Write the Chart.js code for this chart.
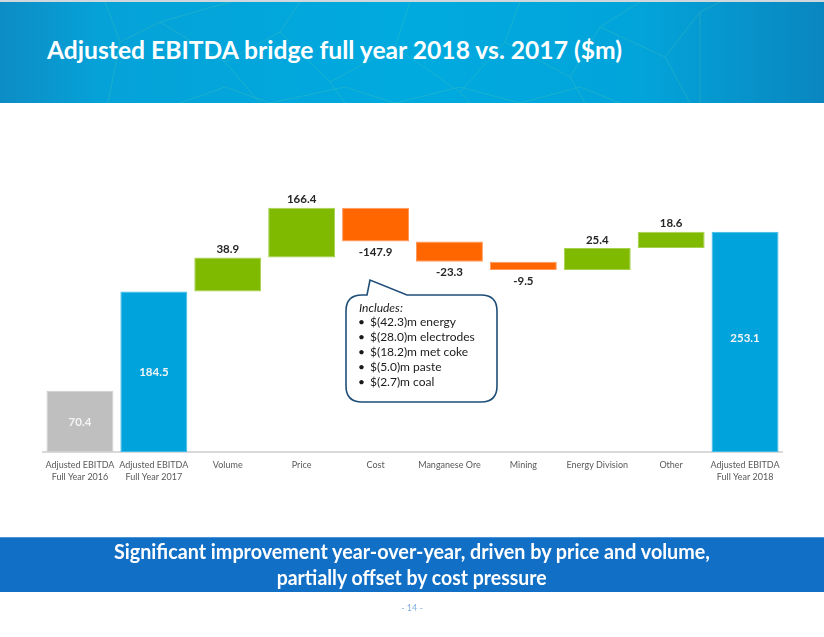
<!DOCTYPE html>
<html>
<head>
<meta charset="utf-8">
<script src="https://cdn.jsdelivr.net/npm/chart.js@4.4.1/dist/chart.umd.min.js"></script>
<style>
  html, body { margin:0; padding:0; background:#fff; }
  body { width:824px; height:637px; position:relative; overflow:hidden; font-family: Lato, "Open Sans", sans-serif; }
  #header { position:absolute; left:0; top:2px; width:824px; height:101px;
    background: linear-gradient(90deg, #0d8cc4 0%, #05a2d8 12%, #00aadf 50%, #02a4da 78%, #0a86bf 100%); overflow:hidden; }
  #topline { position:absolute; left:0; top:0; width:824px; height:2px; background:#d0d8de; }
  #title { position:absolute; left:47px; top:32px; color:#fff; font-weight:700; font-size:25px; white-space:nowrap; transform-origin:0 0; }
  #banner { position:absolute; left:0; top:537px; width:824px; height:54px; background:#116fc6; border-top:1px solid #4a95d8; }
  .bline { position:absolute; left:0; width:824px; text-align:center; color:#fff; font-weight:700; font-size:20px; white-space:nowrap; }
  .bline span { display:inline-block; transform-origin:50% 50%; }
  #page { position:absolute; left:0; width:824px; top:602px; text-align:center; color:#7fb0de; font-size:9px; }
  #chartWrap { position:absolute; left:0; top:110px; width:824px; height:400px; }
  #callout { position:absolute; left:0; top:0; width:824px; height:637px; pointer-events:none; }
  .ct { position:absolute; font-size:12px; color:#1a1a1a; white-space:nowrap; line-height:15px; }
</style>
</head>
<body>
<div id="header">
  <svg width="824" height="101" style="position:absolute;left:0;top:0;opacity:0.25">
    <g stroke="#5fd0a8" stroke-width="1" fill="none">
      <polyline points="105,0 120,40 108,101"/>
      <polyline points="120,40 160,20 230,0"/>
      <polyline points="160,20 225,60 260,101"/>
      <polyline points="225,60 280,30 300,0"/>
      <polyline points="280,30 330,80 345,101"/>
      <polyline points="330,80 395,45 410,0"/>
      <polyline points="395,45 460,90 470,101"/>
      <polyline points="460,90 505,40 520,0"/>
      <polyline points="505,40 570,75 585,101"/>
      <polyline points="570,75 600,25 640,0"/>
      <polyline points="600,25 665,55 690,101"/>
      <polyline points="665,55 700,10 720,0"/>
      <polyline points="700,10 700,101"/>
      <polyline points="180,101 225,85 270,101 345,85 395,101 460,85 520,101 580,85 620,101"/>
    </g>
  </svg>
  <div id="title">Adjusted EBITDA bridge full year 2018 vs. 2017 ($m)</div>
</div>
<div id="topline"></div>

<div id="chartWrap"><canvas id="c" width="824" height="400"></canvas></div>

<svg id="callout" width="824" height="637">
  <path d="M 362 295 L 367 295 L 370 280 L 407 295 L 481 295 Q 497 295 497 311 L 497 386 Q 497 402 481 402 L 362 402 Q 346 402 346 386 L 346 311 Q 346 295 362 295 Z"
        fill="#ffffff" stroke="#1f4e79" stroke-width="1.6"/>
</svg>
<div class="ct" style="left:359px;top:300px;font-style:italic;">Includes:</div>
<div class="ct" style="left:358px;top:314px;">•</div><div class="ct" style="left:370px;top:314px;">$(42.3)m energy</div>
<div class="ct" style="left:358px;top:329px;">•</div><div class="ct" style="left:370px;top:329px;">$(28.0)m electrodes</div>
<div class="ct" style="left:358px;top:344px;">•</div><div class="ct" style="left:370px;top:344px;">$(18.2)m met coke</div>
<div class="ct" style="left:358px;top:359px;">•</div><div class="ct" style="left:370px;top:359px;">$(5.0)m paste</div>
<div class="ct" style="left:358px;top:374px;">•</div><div class="ct" style="left:370px;top:374px;">$(2.7)m coal</div>

<div id="banner">
  <div class="bline" style="top:1px;"><span id="b1">Significant improvement year-over-year, driven by price and volume,</span></div>
  <div class="bline" style="top:27px;"><span id="b2">partially offset by cost pressure</span></div>
</div>
<div id="page">- 14 -</div>

<script>
// ---- data ----
const categories = [
  ["Adjusted EBITDA", "Full Year 2016"],
  ["Adjusted EBITDA", "Full Year 2017"],
  "Volume", "Price", "Cost", "Manganese Ore", "Mining", "Energy Division", "Other",
  ["Adjusted EBITDA", "Full Year 2018"]
];
const values = [70.4, 184.5, 38.9, 166.4, -147.9, -23.3, -9.5, 25.4, 18.6, 253.1];
const barTypes = ["prior", "total", "delta", "delta", "delta", "delta", "delta", "delta", "delta", "total"];
// the original slide draws Price and Cost with a broken (truncated) top at this level
const brokenTop = 280.8;

// fit text widths to reference
function fitWidth(el, w) {
  const r = el.getBoundingClientRect().width;
  el.style.transform = 'scaleX(' + (w / r) + ')';
}
fitWidth(document.getElementById('title'), 575);
fitWidth(document.getElementById('b1'), 596);
fitWidth(document.getElementById('b2'), 270);

// build floating ranges
const ranges = [];
const colors = [];
const borders = [];
let running = 0;
values.forEach((v, i) => {
  const t = barTypes[i];
  if (t === "prior") {
    ranges.push([0, v]); colors.push("#bfbfbf"); borders.push("#d0d0d0");
  } else if (t === "total") {
    ranges.push([0, v]); colors.push("#00a3db"); borders.push("#3dbbe6");
    running = v;
  } else {
    const s = running, e = running + v;
    ranges.push([Math.min(s, brokenTop), Math.min(e, brokenTop)]);
    if (v >= 0) { colors.push("#7fba00"); borders.push("#a6d14d"); }
    else { colors.push("#ff6600"); borders.push("#ff9a5c"); }
    running = e;
  }
});

const labelPlugin = {
  id: 'wfLabels',
  afterDatasetsDraw(chart) {
    const ctx = chart.ctx;
    const meta = chart.getDatasetMeta(0);
    ctx.save();
    ctx.textAlign = 'center';
    ctx.textBaseline = 'middle';
    meta.data.forEach((bar, i) => {
      const v = values[i];
      const txt = v.toFixed(1);
      const top = Math.min(bar.y, bar.base);
      const bottom = Math.max(bar.y, bar.base);
      ctx.font = 'bold 11.5px Lato, "Open Sans", sans-serif';
      if (barTypes[i] !== "delta") {
        ctx.fillStyle = '#f4f4f4';
        let cy = (top + bottom) / 2;
        if (i === values.length - 1) cy -= 5;
        ctx.fillText(txt, bar.x, cy + 1);
      } else if (v >= 0) {
        ctx.fillStyle = '#262626';
        ctx.fillText(txt, bar.x, top - 8);
      } else {
        ctx.fillStyle = '#262626';
        ctx.fillText(txt, bar.x, bottom + 11);
      }
    });
    ctx.restore();
  }
};

new Chart(document.getElementById('c'), {
  type: 'bar',
  data: {
    labels: categories,
    datasets: [{
      data: ranges,
      backgroundColor: colors,
      borderColor: borders,
      borderWidth: 1,
      borderSkipped: false,
      barPercentage: 0.906,
      categoryPercentage: 1.0
    }]
  },
  options: {
    responsive: false,
    animation: false,
    devicePixelRatio: 1,
    layout: { padding: { left: 43, right: 42, top: 0, bottom: 0 } },
    plugins: { legend: { display: false }, tooltip: { enabled: false } },
    scales: {
      x: {
        offset: true,
        grid: { display: false, drawTicks: false },
        border: { display: true, color: '#d9d9d9', width: 2 },
        ticks: {
          color: '#595959', padding: 7,
          font: { family: 'Lato, "Open Sans", sans-serif', size: 9, lineHeight: 1.35 },
          maxRotation: 0, autoSkip: false
        },
        afterFit(scale) { scale.height = 58; }
      },
      y: {
        display: false,
        min: 0,
        max: 393
      }
    }
  },
  plugins: [labelPlugin]
});
</script>
</body>
</html>
